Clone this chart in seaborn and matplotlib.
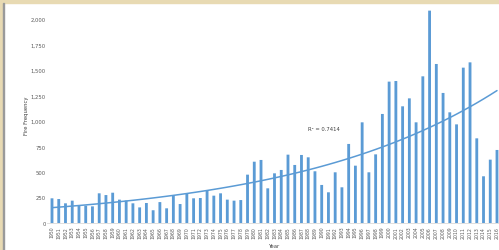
import numpy as np
import pandas as pd
import matplotlib
matplotlib.use("Agg")
import matplotlib.pyplot as plt
import seaborn as sns
from matplotlib.patches import Rectangle

# fire counts per year
years = list(range(1950, 2017))
fires = [242, 235, 193, 219, 170, 170, 163, 291, 274, 297,
         229, 220, 193, 153, 196, 125, 205, 144, 268, 186,
         291, 242, 245, 317, 268, 291, 229, 219, 225, 474,
         601, 618, 340, 487, 520, 670, 569, 667, 644, 507,
         373, 301, 497, 350, 775, 562, 987, 497, 673, 1069,
         1386, 1392, 1144, 1222, 987, 1438, 2082, 1559, 1275, 1085,
         967, 1523, 1575, 830, 458, 621, 716]
y_ticks = [0, 250, 500, 750, 1000, 1250, 1500, 1750, 2000]
r2_label = "R² = 0.7414"

df = pd.DataFrame({"Year": [str(y) for y in years], "Fires": fires})

sns.set_style("white")
plt.rcParams['font.family'] = ['DejaVu Sans']

fig = plt.figure(figsize=(4.99, 2.51), dpi=100)
W, H = 499.0, 251.0

# frame around the screenshot
fig.patches.append(Rectangle((0, 1 - 4 / H), 1, 4 / H, transform=fig.transFigure,
                             color='#e8dab3', zorder=0))
fig.patches.append(Rectangle((0, 0), 3 / W, 1, transform=fig.transFigure,
                             color='#e8dab3', zorder=0))
fig.patches.append(Rectangle((3 / W, 0), 1.2 / W, 1 - 4 / H, transform=fig.transFigure,
                             color='#9a9a9a', zorder=0))

# axes placed so bar 0 sits at 52px and bar 66 at 497px
step = 445 / 66
x0, x1 = -0.7, 66.7
left = (52 + x0 * step) / W
width = (x1 - x0) * step / W
ymax = 2130
bottom = 27 / H
height = (ymax / 2000) * 204 / H
ax = fig.add_axes([left, bottom, width, height])

sns.barplot(data=df, x="Year", y="Fires", color='#5b9bd5', width=0.42,
            saturation=1, linewidth=0, ax=ax)
for p in ax.patches:
    p.set_snap(False)

# exponential trend line
pos = np.arange(len(years))
b, a = np.polyfit(pos, np.log(fires), 1)
ax.plot(pos, np.exp(a + b * pos), color='#5b9bd5', lw=1.1)
ax.text(40.3, 915, r2_label, fontsize=3.8, color='#404040', ha='center')

ax.set_xlim(x0, x1)
ax.set_ylim(0, ymax)
ax.set_yticks(y_ticks)
ax.set_yticklabels([f"{v:,}" for v in y_ticks], fontsize=3.8, color='#595959')
ax.tick_params(axis='x', labelrotation=90, labelsize=3.3, colors='#595959',
               length=0, pad=2)
ax.tick_params(axis='y', length=0, pad=1)
ax.set_xlabel("Year", fontsize=3.8, color='#404040', labelpad=3.5)
ax.set_ylabel("Fire Frequency", fontsize=3.8, color='#404040', labelpad=1)
for s in ['top', 'right', 'left']:
    ax.spines[s].set_visible(False)
ax.spines['bottom'].set_color('#d9d9d9')
ax.spines['bottom'].set_linewidth(0.6)
ax.set_facecolor('none')

fig.savefig("out.png", dpi=100)
